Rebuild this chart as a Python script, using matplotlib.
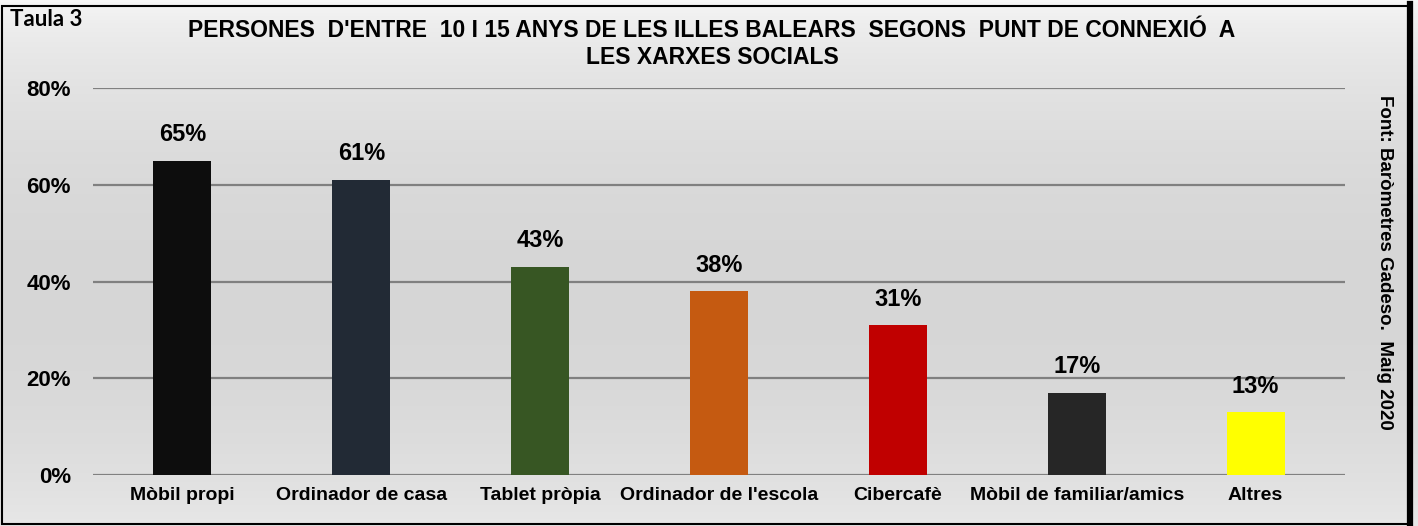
import numpy as np
import matplotlib
matplotlib.use("Agg")
import matplotlib.pyplot as plt

categories = ["Mòbil propi", "Ordinador de casa", "Tablet pròpia", "Ordinador de l'escola",
              "Cibercafè", "Mòbil de familiar/amics", "Altres"]
values = [65, 61, 43, 38, 31, 17, 13]
colors = ["#0d0d0d", "#222a35", "#375623", "#c55a11", "#c00000", "#262626", "#ffff00"]
yticks = [0, 20, 40, 60, 80]

title = "PERSONES  D'ENTRE  10 I 15 ANYS DE LES ILLES BALEARS  SEGONS  PUNT DE CONNEXIÓ  A\nLES XARXES SOCIALS"
source = "Font: Baròmetres Gadeso.  Maig 2020"

plt.rcParams["font.family"] = ["Liberation Sans", "DejaVu Sans"]

fig = plt.figure(figsize=(14.18, 5.26), dpi=100)

# gradient background (light on top, grey lower down)
bg = fig.add_axes([0, 0, 1, 1], zorder=-10)
grad = np.linspace(0, 1, 256)
shade = 0.97 - 0.13 * np.sin(np.pi * np.clip(grad * 0.9, 0, 1)) ** 0.6
bg.imshow(np.dstack([shade, shade, shade]).transpose(1, 0, 2)[:, :1, :].repeat(2, axis=1),
          aspect="auto", extent=[0, 1, 0, 1], origin="upper")
bg.set_xlim(0, 1); bg.set_ylim(0, 1)
bg.axis("off")

W, H = 1418, 526
ax = fig.add_axes([93 / W, 1 - 475 / H, (1345 - 93) / W, (475 - 88) / H])
ax.set_facecolor("none")
x = np.arange(len(categories))
ax.bar(x, values, width=0.325, color=colors, zorder=3)
for xi, v in zip(x, values):
    ax.text(xi, v + 3, f"{v}%", ha="center", va="bottom", fontsize=17, fontweight="bold")
ax.set_xlim(-0.5, len(categories) - 0.5)
ax.set_ylim(0, 80)
ax.set_yticks(yticks)
ax.set_yticklabels([f"{t}%" for t in yticks], fontsize=16, fontweight="bold")
ax.set_xticks(x)
ax.set_xticklabels(categories, fontsize=14, fontweight="bold")
ax.tick_params(length=0, axis="y", pad=16)
ax.tick_params(length=0, axis="x", pad=9)
ax.grid(axis="y", color="#808080", linewidth=1.6, zorder=0)
for s in ax.spines.values():
    s.set_visible(False)

fig.text(712 / W, 1 - 44 / H, title, ha="center", va="center", fontsize=16.5,
         fontweight="bold", linespacing=1.2)
fig.text(10 / W, 1 - 20 / H, "Taula 3", ha="left", va="center", fontsize=16,
         fontweight="bold", family=["Lato", "DejaVu Sans"])
fig.text(1384 / W, 1 - 262 / H, source, ha="center", va="center", rotation=270,
         fontsize=13.5, fontweight="bold")

# frame
frame = plt.Rectangle((2 / W, 2 / H), 1 - 10 / W, 1 - 8 / H, transform=fig.transFigure,
                      fill=False, edgecolor="black", linewidth=1.5)
fig.add_artist(frame)
fig.add_artist(plt.Line2D([1 - 8 / W, 1 - 8 / W], [0, 1 - 4 / H], transform=fig.transFigure,
                          color="black", linewidth=4.5))

fig.savefig("out.png", dpi=100)
